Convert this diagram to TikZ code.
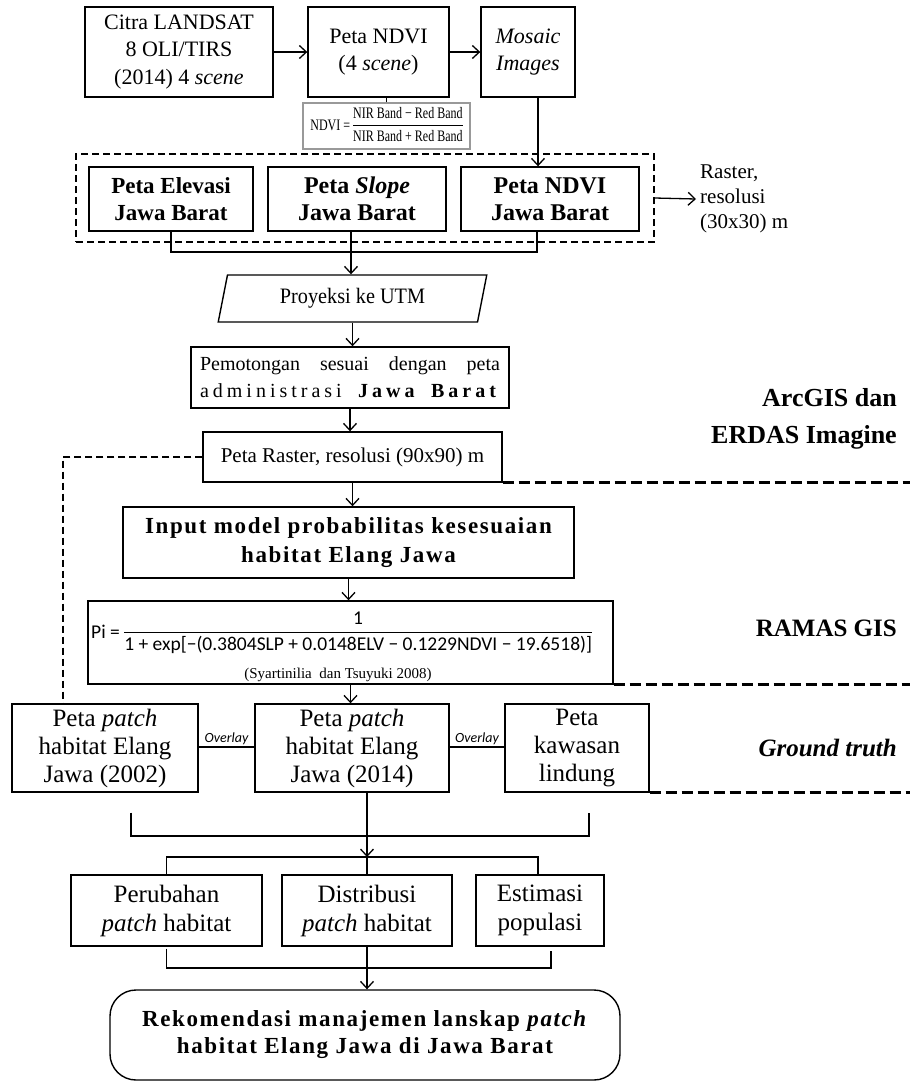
\documentclass[tikz,border=0pt]{standalone}
\usepackage{fontspec}
\setmainfont{Liberation Serif}
\newfontfamily\calib{Carlito}
\newfontfamily\sprd[LetterSpace=7.0]{Liberation Serif}
\newfontfamily\wide[LetterSpace=20.0]{Liberation Serif}
\usetikzlibrary{arrows.meta,shapes.geometric}
\newcommand\fs[2]{\fontsize{#1}{#2}\selectfont}
\begin{document}
\begin{tikzpicture}[x=1pt,y=-1pt,
  box/.style={draw, line width=1.4pt, inner sep=0pt, align=center},
  ln/.style={line width=1.3pt},
  ar/.style={line width=1.3pt, -{Straight Barb[length=7pt,width=13pt]}},
  dsh/.style={line width=1.3pt, dash pattern=on 7pt off 4pt},
  thk/.style={line width=3pt, dash pattern=on 11pt off 5pt},
  side/.style={anchor=east, align=right, inner sep=0pt, font=\bfseries\fs{26}{37}}
]
\useasboundingbox (0,0) rectangle (910,1085);
\coordinate (rE) at (910,0);

% row 1
\node[box, minimum width=188pt, minimum height=90pt, font=\fs{22}{27.5}] (landsat) at (179,52) {Citra LANDSAT\\8 OLI/TIRS\\(2014) 4 \textit{scene}};
\node[box, minimum width=141pt, minimum height=90pt, font=\fs{22}{27.5}] (ndvi) at (378.5,52) {Peta NDVI\\(4 \textit{scene})};
\node[box, minimum width=94pt, minimum height=90pt, font=\itshape\fs{22}{27.5}] (mosaic) at (528,52) {Mosaic\\Images};
\draw[ar] (landsat) -- (ndvi);
\draw[ar] (ndvi) -- (mosaic);

\node[draw=gray!80, line width=1.2pt, minimum width=167pt, minimum height=46pt, inner sep=0pt] (fndvi) at (386.5,126)
  {\scalebox{0.75}[1]{\fs{16}{18}NDVI = \begin{tabular}{@{}c@{}}NIR Band − Red Band\\[1pt]\hline\rule{0pt}{16pt}NIR Band + Red Band\end{tabular}}};
\draw[ln] (fndvi.north) -- (fndvi.north |- ndvi.south);

% group
\node[dsh, draw, minimum width=578pt, minimum height=88pt, inner sep=0pt] (grp) at (365,198) {};
\node[box, minimum width=164pt, minimum height=64pt, font=\bfseries\fs{23}{27}] (elev) at (171,199) {Peta Elevasi\\Jawa Barat};
\node[box, minimum width=178pt, minimum height=64pt, font=\bfseries\fs{24}{27}] (slope) at (357,199) {Peta \textit{Slope}\\Jawa Barat};
\node[box, minimum width=178pt, minimum height=64pt, font=\bfseries\fs{24}{27}] (ndvijb) at (550,199) {Peta NDVI\\Jawa Barat};
\draw[ar] ([xshift=10pt]mosaic.south) -- ([xshift=10pt]mosaic.south |- ndvijb.north);

\node[anchor=west, align=left, inner sep=0pt, font=\fs{21}{25}] (rast) at (700,199) {Raster,\\resolusi\\(30x30) m};
\draw[ar] (grp.east) -- ([xshift=-4pt]rast.west);

\coordinate (j) at (351,252);
\draw[ln] (elev.south) |- ([xshift=-13pt]ndvijb.south |- j) -- ([xshift=-13pt]ndvijb.south);
\draw[ln] ([xshift=-6pt]slope.south) -- (j);

\node[draw, trapezium, trapezium left angle=75, trapezium right angle=105, trapezium stretches=true,
  minimum width=269pt, minimum height=47pt, line width=1.4pt, inner sep=0pt, font=\fs{22}{25}] (proj) at (352.5,298.5)
  {\scalebox{0.92}[1]{Proyeksi ke UTM}};
\draw[ar] (j) -- (j |- proj.north);

\node[box, minimum width=318pt, minimum height=61pt, font=\fs{20}{27}] (potong) at (350,377.5)
  {\makebox[300pt][s]{Pemotongan sesuai dengan peta}\\\makebox[300pt][s]{\wide administrasi \textbf{Jawa} \textbf{Barat}}};
\draw[ar] (proj.south) -- (proj.south |- potong.north);

\node[box, minimum width=299pt, minimum height=50pt, font=\fs{21}{24}] (raster) at (352.5,457) {Peta Raster, resolusi (90x90) m};
\draw[ar] (potong.south) -- (potong.south |- raster.north);

\node[side] (arc) at (897,418.5) {ArcGIS dan\\ERDAS Imagine};
\draw[thk] (raster.south east) -- (raster.south east -| rE);

\node[box, minimum width=451pt, minimum height=71pt, font=\sprd\bfseries\fs{23}{29}] (input) at (348.5,542.5) {Input model probabilitas kesesuaian\\habitat Elang Jawa};
\draw[ar] (raster.south) -- (raster.south |- input.north);

\node[box, minimum width=525pt, minimum height=83pt] (pi) at (350.5,642.5) {};
\node[anchor=west, inner sep=0pt, font=\calib\fs{19.5}{21}] (pieq) at (91,633)
  {Pi = \begin{tabular}{@{}c@{}}1\\[1pt]\hline\rule{0pt}{18pt}1 + exp[−(0.3804SLP + 0.0148ELV − 0.1229NDVI − 19.6518)]\end{tabular}};
\node[inner sep=0pt, font=\fs{15}{17}] (cite) at (338,675) {(Syartinilia\ \ dan Tsuyuki 2008)};
\draw[ar] (input.south) -- (input.south |- pi.north);

\node[side, font=\bfseries\fs{25}{30}] (ramas) at (897,628) {RAMAS GIS};
\draw[thk] (pi.south east) -- (pi.south east -| rE);

% patch row
\node[box, minimum width=186pt, minimum height=88pt, font=\fs{25}{28}] (p02) at (105,748) {Peta \textit{patch}\\habitat Elang\\Jawa (2002)};
\node[box, minimum width=194pt, minimum height=88pt, font=\fs{25}{28}] (p14) at (352,748) {Peta \textit{patch}\\habitat Elang\\Jawa (2014)};
\node[box, minimum width=144pt, minimum height=88pt, font=\fs{25}{28}] (kaw) at (577,748) {Peta\\kawasan\\lindung};
\draw[ar] (pi.south) -- (pi.south |- p14.north);
\draw[ln] ([yshift=1pt]p02.east) -- node[above=1pt, inner sep=1pt, font=\calib\itshape\fs{14}{16}] (ov1) {Overlay} ([yshift=1pt]p14.west);
\draw[ln] ([yshift=1pt]p14.east) -- node[above=1pt, inner sep=1pt, font=\calib\itshape\fs{14}{16}] (ov2) {Overlay} ([yshift=1pt]kaw.west);
\draw[dsh] (raster.west) -| ([xshift=-42pt]p02.north);

\node[side, font=\bfseries\itshape\fs{25}{30}] (gt) at (897,748) {Ground truth};
\draw[thk] (kaw.south east) -- (kaw.south east -| rE);

\coordinate (h1) at (367,836);
\coordinate (b1) at (367,857);
\draw[ln] ([xshift=26pt,yshift=-20pt]p02.south) |- (h1) -| ([xshift=12pt,yshift=-20pt]kaw.south);
\draw[ar] ([xshift=15pt]p14.south) -- (b1);

% bottom row
\node[box, minimum width=191pt, minimum height=71pt, font=\fs{25}{29}] (perub) at (166.5,910.5) {Perubahan\\\textit{patch} habitat};
\node[box, minimum width=170pt, minimum height=71pt, font=\fs{25}{29}] (distr) at (367,910.5) {Distribusi\\\textit{patch} habitat};
\node[box, minimum width=128pt, minimum height=71pt, font=\fs{25}{29}] (estim) at (540,910.5) {Estimasi\\populasi};
\draw[ln] (perub.north) -- (perub.north |- b1) -- ([xshift=-2pt]estim.north |- b1) -- ([xshift=-2pt]estim.north);
\draw[ln] (b1) -- (distr.north);

\node[box, rounded corners=26pt, minimum width=510pt, minimum height=90pt, font=\sprd\bfseries\fs{23}{27}] (rek) at (365,1035)
  {Rekomendasi manajemen lanskap \textit{patch}\\habitat Elang Jawa di Jawa Barat};
\coordinate (h2) at (367,968);
\draw[ln] ([yshift=-2pt]perub.south) |- (h2) -| ([xshift=11pt,yshift=-4pt]estim.south);
\draw[ar] (distr.south) -- (distr.south |- rek.north);
\end{tikzpicture}
\end{document}
